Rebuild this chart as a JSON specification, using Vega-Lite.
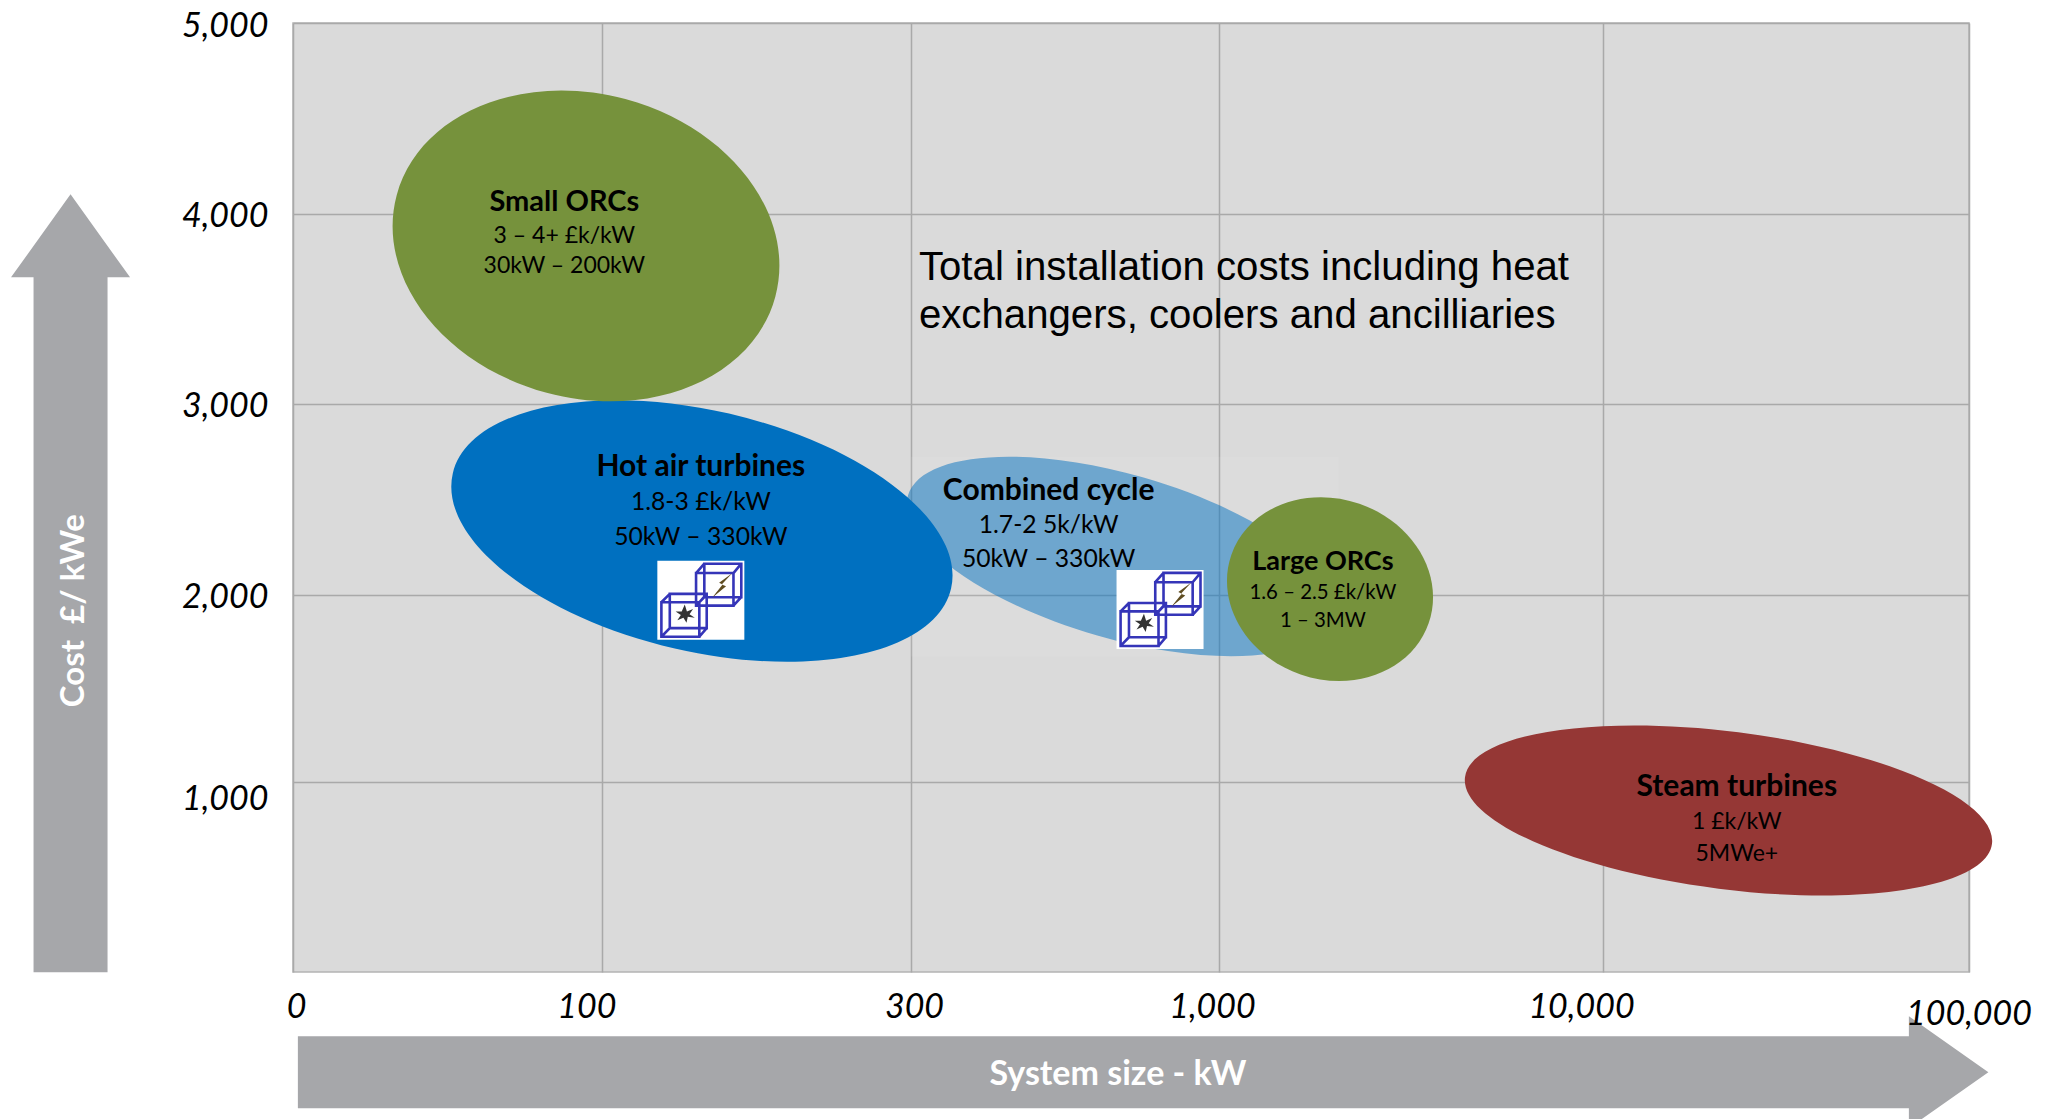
{"$schema":"https://vega.github.io/schema/vega-lite/v6.json","width":1676,"height":949,"autosize":{"type":"none"},"padding":{"left":293,"top":23,"right":89,"bottom":147},"background":"#ffffff","view":{"fill":"#dadada","stroke":"#b4b4b4","strokeWidth":1.5},
"encoding":{"x":{"field":"size_kW","type":"quantitative","title":null,"scale":{"type":"linear","domain":[0,100,300,1000,10000,100000],"range":[0,309.4,618,926,1310,1676],"zero":false,"nice":false},"axis":{"values":[0,100,300,1000,10000,100000],"labelExpr":"datum.value==100000?'':format(datum.value,',')","grid":true,"gridColor":"#a9a9a9","gridWidth":1.5,"domain":false,"ticks":false,"labelFont":"Lato","labelFontStyle":"italic","labelFontSize":34,"labelColor":"#000000","labelPadding":18,"labelFlush":false,"labelOverlap":false,"labelOffset":{"condition":[{"test":"datum.value==0","value":3},{"test":"datum.value==100","value":-16},{"test":"datum.value==300","value":3},{"test":"datum.value==1000","value":-7},{"test":"datum.value==10000","value":-22}],"value":0}}},
"y":{"field":"cost","type":"quantitative","title":null,"scale":{"type":"linear","domain":[0,1000,2000,3000,4000,5000],"range":[949,759,572,381,191,0],"zero":false,"nice":false},"axis":{"values":[1000,2000,3000,4000,5000],"labelExpr":"format(datum.value,',')","grid":true,"gridColor":"#a9a9a9","gridWidth":1.5,"domain":false,"ticks":false,"labelFont":"Lato","labelFontStyle":"italic","labelFontSize":34,"labelColor":"#000000","labelPadding":25,"labelOverlap":false,"labelOffset":{"condition":[{"test":"datum.value==1000","value":17},{"test":"datum.value==5000","value":3}],"value":2}}}},
"layer":[
{"data":{"values":[{"size_kW":300,"x2":3805,"cost":2724,"y2":1671}]},"mark":{"type":"rect","fill":"#ffffff","opacity":0.08},"encoding":{"x2":{"field":"x2"},"y2":{"field":"y2"}}},
{"data":{"values":[{"name":"Combined cycle","size_kW":775,"cost":2202}]},"mark":{"type":"point","shape":"M-1,0A1,0.373,0,1,1,1,0A1,0.373,0,1,1,-1,0Z","size":194657,"angle":16,"filled":true,"fill":"#0070c0","opacity":0.5,"stroke":null}},
{"data":{"values":[{"name":"Hot air turbines","size_kW":164.5,"cost":2335}]},"mark":{"type":"point","shape":"M-1,0A1,0.4713,0,1,1,1,0A1,0.4713,0,1,1,-1,0Z","size":261529,"angle":13,"filled":true,"fill":"#0070c0","opacity":1,"stroke":null}},
{"data":{"values":[{"name":"Small ORCs","size_kW":94.7,"cost":3832}]},"mark":{"type":"point","shape":"M-1,0A1,0.7755,0,1,1,1,0A1,0.7755,0,1,1,-1,0Z","size":153664,"angle":15,"filled":true,"fill":"#76923c","opacity":1,"stroke":null}},
{"data":{"values":[{"name":"Large ORCs","size_kW":3602,"cost":2031}]},"mark":{"type":"point","shape":"M-1,0A1,0.865,0,1,1,1,0A1,0.865,0,1,1,-1,0Z","size":43597,"angle":19,"filled":true,"fill":"#76923c","opacity":1,"stroke":null}},
{"data":{"values":[{"name":"Steam turbines","size_kW":40860,"cost":850}]},"mark":{"type":"point","shape":"M-1,0A1,0.2967,0,1,1,1,0A1,0.2967,0,1,1,-1,0Z","size":282173,"angle":7.2,"filled":true,"fill":"#953735","opacity":1,"stroke":null}},
{"data":{"name":"icons","values":[{"size_kW":163.8,"cost":1972},{"size_kW":866,"cost":1923}]},"mark":{"type":"point","shape":"M-1,-0.908H1V0.908H-1Z","size":7569,"filled":true,"fill":"#ffffff","opacity":1,"stroke":null}},
{"data":{"name":"icons"},"mark":{"type":"point","shape":"M-0.11,-0.625H0.75V0.124H-0.11ZM0.08,-0.84H0.93V-0.07H0.08ZM-0.11,-0.625L0.08,-0.84M0.75,-0.625L0.93,-0.84M0.75,0.124L0.93,-0.07M-0.11,0.124L0.08,-0.07M-0.907,0.046H-0.035V0.84H-0.907ZM-0.714,-0.147H0.135V0.64H-0.714ZM-0.907,0.046L-0.714,-0.147M-0.035,0.046L0.135,-0.147M-0.035,0.84L0.135,0.64M-0.907,0.84L-0.714,0.64","size":7569,"filled":false,"stroke":"#3535b8","strokeWidth":2.6,"opacity":1}},
{"data":{"name":"icons"},"mark":{"type":"point","shape":"M0.72,-0.62L0.42,-0.4L0.5,-0.36L0.26,-0.06L0.58,-0.32L0.48,-0.36Z","size":7569,"filled":true,"fill":"#5f4d22","opacity":1,"stroke":null}},
{"data":{"name":"icons"},"mark":{"type":"point","shape":"M-0.37,0.1L-0.32,0.26L-0.18,0.2L-0.26,0.32L-0.14,0.4L-0.3,0.38L-0.33,0.52L-0.4,0.4L-0.54,0.46L-0.46,0.34L-0.58,0.26L-0.44,0.26Z","size":7569,"filled":true,"fill":"#333333","opacity":1,"stroke":null}},
{"data":{"values":[{"size_kW":-71.9,"cost":2061}]},"mark":{"type":"point","shape":"M0,-389L59.5,-306L37,-306L37,389L-37,389L-37,-306L-59.5,-306Z","size":4,"filled":true,"fill":"#a6a7aa","opacity":1,"stroke":null}},
{"data":{"values":[{"size_kW":827,"cost":-527}]},"mark":{"type":"point","shape":"M-845,-36L766,-36L766,-56L845.5,0L766,56L766,36L-845,36Z","size":4,"filled":true,"fill":"#a6a7aa","opacity":1,"stroke":null}},
{"data":{"values":[{"t":"100,000","size_kW":100000,"cost":-228}]},"mark":{"type":"text","font":"Lato","fontStyle":"italic","fontSize":34,"color":"#000000","align":"center","baseline":"middle"},"encoding":{"text":{"field":"t"}}},
{"data":{"values":[{"t":"Hot air turbines","size_kW":163.8,"cost":2676},{"t":"Combined cycle","size_kW":612.8,"cost":2552},{"t":"Steam turbines","size_kW":42900,"cost":979}]},"mark":{"type":"text","font":"Lato","fontWeight":"bold","fontSize":30,"color":"#000000","align":"center","baseline":"middle","dy":1},"encoding":{"text":{"field":"t"}}},
{"data":{"values":[{"t":"Small ORCs","size_kW":87.7,"cost":4075}]},"mark":{"type":"text","font":"Lato","fontWeight":"bold","fontSize":29,"color":"#000000","align":"center","baseline":"middle","dy":2},"encoding":{"text":{"field":"t"}}},
{"data":{"values":[{"t":"Large ORCs","size_kW":3435,"cost":2179}]},"mark":{"type":"text","font":"Lato","fontWeight":"bold","fontSize":27,"color":"#000000","align":"center","baseline":"middle","dy":1},"encoding":{"text":{"field":"t"}}},
{"data":{"values":[{"t":"3 – 4+ £k/kW","size_kW":87.7,"cost":3897},{"t":"30kW – 200kW","size_kW":87.7,"cost":3738},{"t":"1 £k/kW","size_kW":42900,"cost":800},{"t":"5MWe+","size_kW":42900,"cost":634}]},"mark":{"type":"text","font":"Lato","fontSize":23,"color":"#000000","align":"center","baseline":"middle","dy":2},"encoding":{"text":{"field":"t"}}},
{"data":{"values":[{"t":"1.8-3 £k/kW","size_kW":163.8,"cost":2490},{"t":"50kW – 330kW","size_kW":163.8,"cost":2310},{"t":"1.7-2 5k/kW","size_kW":612.8,"cost":2372},{"t":"50kW – 330kW","size_kW":612.8,"cost":2193}]},"mark":{"type":"text","font":"Lato","fontSize":24.7,"color":"#000000","align":"center","baseline":"middle","dy":2},"encoding":{"text":{"field":"t"}}},
{"data":{"values":[{"t":"1.6 – 2.5 £k/kW","size_kW":3435,"cost":2014},{"t":"1 – 3MW","size_kW":3435,"cost":1867}]},"mark":{"type":"text","font":"Lato","fontSize":20.4,"color":"#000000","align":"center","baseline":"middle","dy":1},"encoding":{"text":{"field":"t"}}},
{"data":{"values":[{"t":"Total installation costs including heat","size_kW":318,"cost":3724},{"t":"exchangers, coolers and ancilliaries","size_kW":318,"cost":3476}]},"mark":{"type":"text","font":"Liberation Sans","fontSize":40.2,"color":"#000000","align":"left","baseline":"middle","dy":2},"encoding":{"text":{"field":"t"}}},
{"data":{"values":[{"t":"Cost \u00a0£/ kWe","size_kW":-70.7,"cost":1916}]},"mark":{"type":"text","font":"Lato","fontWeight":"bold","fontSize":33,"color":"#ffffff","angle":270,"align":"center","baseline":"middle"},"encoding":{"text":{"field":"t"}}},
{"data":{"values":[{"t":"System size - kW","size_kW":770.6,"cost":-531}]},"mark":{"type":"text","font":"Lato","fontWeight":"bold","fontSize":34,"color":"#ffffff","align":"center","baseline":"middle","dy":2},"encoding":{"text":{"field":"t"}}}
]}
